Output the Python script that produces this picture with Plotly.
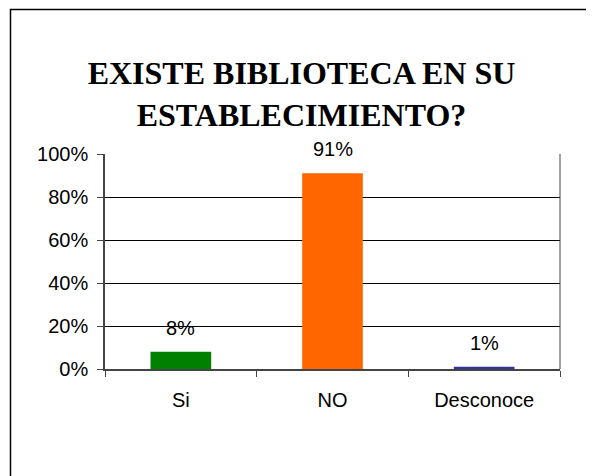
import plotly.graph_objects as go

categories = ["Si", "NO", "Desconoce"]
values = [0.08, 0.91, 0.01]
labels = ["8%", "91%", "1%"]
colors = ["#008000", "#FF6600", "#333399"]
title_text = "EXISTE BIBLIOTECA EN SU<br>ESTABLECIMIENTO?"

OFF = 8  # default body margin of the html page
W, H = 594 - OFF, 476 - OFF
L, R, T, B = 105 - OFF, 34, 154 - OFF, 107
pw, ph = W - L - R, H - T - B

def px_x(x):
    return (x - OFF - L) / pw

def px_y(y):
    return (H - B - (y - OFF)) / ph

fig = go.Figure()
fig.add_trace(go.Bar(
    x=categories, y=values, marker=dict(color=colors, line=dict(width=0)),
    width=0.4, hoverinfo="skip",
))

for c, v, t in zip(categories, values, labels):
    fig.add_annotation(x=c, y=v, text=t, showarrow=False, yanchor="bottom",
                       yshift=11, font=dict(family="Liberation Sans, Arial", size=20, color="#000"))

# outer chart border (only left/top visible)
fig.add_shape(type="rect", xref="paper", yref="paper",
              x0=px_x(10.5), x1=px_x(640), y0=px_y(9.5), y1=px_y(520),
              line=dict(color="#000", width=1.5), layer="below")
# right border of plot area
fig.add_shape(type="line", xref="paper", yref="paper", x0=1, x1=1, y0=0, y1=1,
              line=dict(color="#444", width=1))

fig.update_layout(
    width=W, height=H,
    margin=dict(l=L, r=R, t=T, b=B),
    paper_bgcolor="white", plot_bgcolor="white",
    showlegend=False,
    title=dict(text="<b>" + title_text + "</b>", x=(301.5 - OFF) / W, xanchor="center",
               y=1 - (84 - OFF) / H, yanchor="middle",
               font=dict(family="Liberation Serif", size=32, color="#000")),
    bargap=0.6,
)
fig.update_xaxes(
    range=[-0.5, 2.5], showgrid=False, tickmode="array",
    tickvals=[0, 1, 2], ticktext=categories,
    showline=True, linecolor="#444", linewidth=1.5,
    ticks="", tickfont=dict(family="Liberation Sans, Arial", size=20, color="#000"),
    ticklabelstandoff=12,
    minor=dict(tickvals=[-0.5, 0.5, 1.5, 2.5], ticks="outside", ticklen=6,
               tickcolor="#444", showgrid=False),
)
fig.update_yaxes(
    range=[0, 1], tickvals=[0, 0.2, 0.4, 0.6, 0.8, 1.0], tickformat=".0%",
    showgrid=True, gridcolor="#000", gridwidth=1,
    showline=True, linecolor="#444", linewidth=1.5,
    ticks="outside", ticklen=6, tickcolor="#444",
    tickfont=dict(family="Liberation Sans, Arial", size=20, color="#000"),
    ticklabelstandoff=5,
    zeroline=False,
)

fig.write_html("out.html")
